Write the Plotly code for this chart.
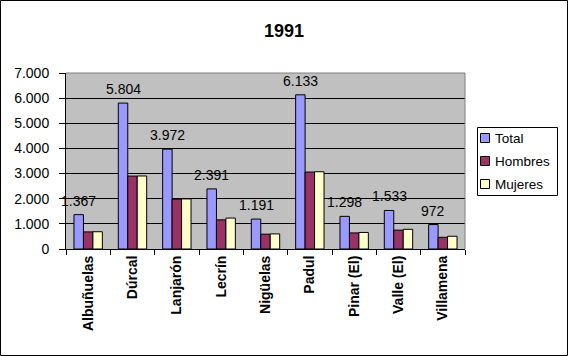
import plotly.graph_objects as go

categories = ["Albuñuelas", "Dúrcal", "Lanjarón", "Lecrín", "Nigüelas",
              "Padul", "Pinar (El)", "Valle (El)", "Villamena"]
total = [1367, 5804, 3972, 2391, 1191, 6133, 1298, 1533, 972]
hombres = [680, 2900, 1980, 1160, 590, 3060, 640, 750, 465]
mujeres = [687, 2904, 1992, 1231, 601, 3073, 658, 783, 507]
y_ticks = [0, 1000, 2000, 3000, 4000, 5000, 6000, 7000]
series_names = ["Total", "Hombres", "Mujeres"]
series_colors = ["#9999FF", "#993366", "#FFFFCC"]
title_text = "1991"

W, H = 568, 356
L, R, T, B = 66, 103, 73, 107
pw, ph = W - L - R, H - T - B

FONT = "Liberation Sans, Arial, sans-serif"


def px_x(p):
    return (p - L) / pw


def px_y(p):
    return (H - B - p) / ph


fig = go.Figure()
for name, vals, col in zip(series_names, [total, hombres, mujeres], series_colors):
    fig.add_trace(go.Bar(x=categories, y=vals, name=name, showlegend=False,
                         marker=dict(color=col, line=dict(color="black", width=1))))


def fmt(v):
    return f"{v:,}".replace(",", ".")


BARGAP = 0.36
bar_px = pw / len(categories) * (1 - BARGAP) / 3
for c, v in zip(categories, total):
    fig.add_annotation(x=c, y=v, xref="x", yref="y", text=fmt(v), showarrow=False,
                       xshift=-bar_px, yshift=14, yanchor="middle",
                       font=dict(family=FONT, size=14, color="black"))

# plot border (gray top/right)
fig.add_shape(type="line", xref="paper", yref="paper", x0=0, x1=1, y0=1, y1=1,
              line=dict(color="#808080", width=1), layer="above")
fig.add_shape(type="line", xref="paper", yref="paper", x0=1, x1=1, y0=0, y1=1,
              line=dict(color="#808080", width=1), layer="above")
# outer chart border
fig.add_shape(type="rect", xref="paper", yref="paper",
              x0=px_x(0.5), x1=px_x(W - 0.5), y0=px_y(H - 0.5), y1=px_y(0.5),
              line=dict(color="black", width=1), layer="above")

# legend box
fig.add_shape(type="rect", xref="paper", yref="paper",
              x0=px_x(477.5), x1=px_x(557.5), y0=px_y(195.5), y1=px_y(127.5),
              line=dict(color="black", width=1), fillcolor="white", layer="above")
for i, (name, col) in enumerate(zip(series_names, series_colors)):
    cy = 138 + 23 * i
    fig.add_shape(type="rect", xref="paper", yref="paper",
                  x0=px_x(480.5), x1=px_x(489.5), y0=px_y(cy + 4.5), y1=px_y(cy - 4.5),
                  line=dict(color="black", width=1), fillcolor=col, layer="above")
    fig.add_annotation(x=px_x(493), y=px_y(cy), xref="paper", yref="paper", text=name,
                       showarrow=False, xanchor="left", yanchor="middle",
                       font=dict(family=FONT, size=13.5, color="black"))

fig.update_layout(
    width=W, height=H,
    margin=dict(l=L, r=R, t=T, b=B, pad=0, autoexpand=False),
    paper_bgcolor="white", plot_bgcolor="#C0C0C0",
    separators=",.",
    barmode="group", bargap=BARGAP, bargroupgap=0,
    font=dict(family=FONT, size=14, color="black"),
    title=dict(text="<b>" + title_text + "</b>", x=284 / W, xref="container",
               y=1 - 31 / H, yref="container", xanchor="center", yanchor="middle",
               font=dict(family=FONT, size=18, color="black")),
    showlegend=False,
)
fig.update_xaxes(type="category", range=[-0.5, len(categories) - 0.5],
                 tickson="boundaries", ticks="outside", ticklen=5,
                 tickcolor="black", showline=True, linecolor="black", linewidth=1,
                 tickangle=-90, showgrid=False,
                 tickfont=dict(family=FONT, size=14, color="black", weight="bold"))
fig.update_yaxes(range=[0, 7000], tickvals=y_ticks, tickformat=",d", ticks="outside",
                 ticklen=6, tickcolor="black", showline=True, linecolor="black",
                 linewidth=1, showgrid=True, gridcolor="black", gridwidth=1,
                 zeroline=False, ticklabelstandoff=7,
                 tickfont=dict(family=FONT, size=14, color="black"))

fig.write_html("out.html", config={"displayModeBar": False},
               post_script="document.body.style.margin='0';"
                           "document.body.style.overflow='hidden';")
